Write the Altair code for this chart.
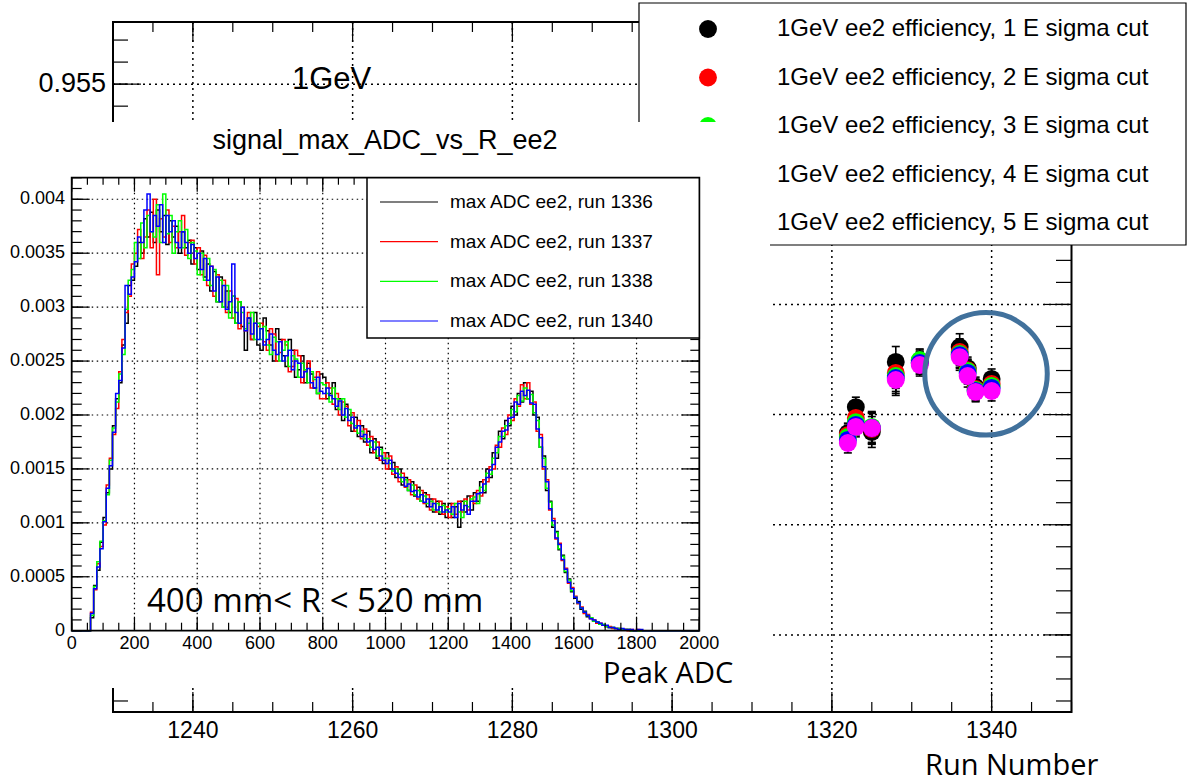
import altair as alt
import pandas as pd

# ---------------- background plot: efficiency vs run number ----------------
runs = [1322, 1323, 1325, 1328, 1331, 1336, 1337, 1338, 1340]
eff_1sigma = [0.93916, 0.94034, 0.93921, 0.94239, 0.94234, 0.94307, 0.94211, 0.94125, 0.94162]
eff_2sigma = [0.93907, 0.93985, 0.93935, 0.94189, 0.94243, 0.94284, 0.94202, 0.94116, 0.94139]
eff_3sigma = [0.93898, 0.93966, 0.93944, 0.94175, 0.94248, 0.94275, 0.94198, 0.94112, 0.94130]
eff_4sigma = [0.93885, 0.93953, 0.93939, 0.94166, 0.94234, 0.94270, 0.94189, 0.94107, 0.94121]
eff_5sigma = [0.93871, 0.93944, 0.93939, 0.94157, 0.94225, 0.94261, 0.94175, 0.94103, 0.94107]
eff_err = [0.00045, 0.00045, 0.0007, 0.0007, 0.0005, 0.0006, 0.0005, 0.00045, 0.00045]
series_labels = [
    "1GeV ee2 efficiency, 1 E sigma cut",
    "1GeV ee2 efficiency, 2 E sigma cut",
    "1GeV ee2 efficiency, 3 E sigma cut",
    "1GeV ee2 efficiency, 4 E sigma cut",
    "1GeV ee2 efficiency, 5 E sigma cut",
]
series_colors = ["#000000", "#ff0000", "#00ff00", "#0000ff", "#ff00ff"]

run_major = [1240, 1260, 1280, 1300, 1320, 1340]
run_labels = ["1240", "1260", "1280", "1300", "1320", "1340"]
run_minor = [1230, 1235, 1240, 1245, 1250, 1255, 1260, 1265, 1270, 1275, 1280, 1285,
             1290, 1295, 1300, 1305, 1310, 1315, 1320, 1325, 1330, 1335, 1340, 1345, 1350]
eff_major = [0.93, 0.935, 0.94, 0.945, 0.95, 0.955]
eff_visible_label = [0.955]          # the other y labels are hidden behind the inset
eff_visible_text = ["0.955"]
eff_minor = [0.927, 0.928, 0.929, 0.930, 0.931, 0.932, 0.933, 0.934, 0.935, 0.936, 0.937,
             0.938, 0.939, 0.940, 0.941, 0.942, 0.943, 0.944, 0.945, 0.946, 0.947, 0.948,
             0.949, 0.950, 0.951, 0.952, 0.953, 0.954, 0.955, 0.956, 0.957]

highlight_run = [1339.3]
highlight_eff = [0.94185]

# ---------------- inset: peak ADC histograms, 10-ADC bins (values in units of 1e-6) ----------------
HIST_UNIT = 1e-6
adc_bins = list(range(0, 2000, 10))
hist_1336 = [
    0, 0, 0, 0, 0, 0, 120, 420, 560, 820, 1050, 1280, 1500, 1900, 2150, 2300, 2650, 2850, 3200, 3250,
    3380, 3600, 3500, 3820, 3650, 3880, 3600, 3900, 3700, 3850, 3580, 3800, 3650, 3750, 3500, 3700, 3550, 3620, 3400, 3550,
    3350, 3520, 3280, 3400, 3150, 3330, 3050, 3280, 3000, 3150, 2950, 3100, 2850, 3050, 2820, 2600, 2900, 2700, 2950, 2650,
    2600, 2900, 2780, 2650, 2500, 2800, 2700, 2550, 2450, 2700, 2600, 2350, 2420, 2550, 2300, 2480, 2380, 2250, 2200, 2380,
    2350, 2150, 2200, 2300, 2050, 2150, 1950, 2100, 2000, 1850, 1980, 1800, 1900, 1750, 1850, 1650, 1780, 1600, 1700, 1550,
    1650, 1500, 1560, 1420, 1500, 1350, 1420, 1300, 1380, 1250, 1330, 1200, 1280, 1150, 1220, 1100, 1200, 1080, 1180, 1050,
    1180, 1050, 1150, 960, 1200, 1100, 1250, 1120, 1280, 1200, 1380, 1280, 1500, 1420, 1650, 1600, 1850, 1780, 1950, 1900,
    2080, 2000, 2200, 2120, 2300, 2150, 2220, 2000, 1980, 1700, 1620, 1300, 1200, 960, 920, 750, 700, 540, 480, 360,
    300, 270, 200, 180, 130, 120, 90, 80, 60, 50, 40, 30, 30, 20, 20, 10, 10, 10, 0, 0,
    0, 0, 0, 0, 0, 0, 0, 0, 0, 0, 0, 0, 0, 0, 0, 0, 0, 0, 0, 0]
hist_1337 = [
    0, 0, 0, 0, 0, 0, 170, 380, 620, 780, 980, 1350, 1600, 1820, 2060, 2400, 2700, 2950, 3100, 3400,
    3500, 3720, 3450, 3650, 3900, 3550, 4000, 3300, 3820, 3650, 3900, 3600, 3750, 3550, 3700, 3850, 3480, 3600, 3620, 3400,
    3550, 3300, 3480, 3200, 3380, 3100, 3300, 3050, 3250, 2950, 3150, 2900, 3080, 2800, 3000, 2780, 2950, 2700, 2850, 2820,
    2850, 2680, 2600, 2800, 2750, 2500, 2580, 2700, 2650, 2400, 2450, 2600, 2550, 2300, 2420, 2500, 2250, 2350, 2400, 2150,
    2150, 2300, 2250, 2100, 2200, 2000, 2120, 2080, 1900, 2020, 1850, 1950, 1780, 1870, 1720, 1800, 1650, 1750, 1580, 1650,
    1500, 1620, 1450, 1520, 1380, 1460, 1330, 1400, 1260, 1350, 1220, 1300, 1180, 1260, 1120, 1220, 1100, 1200, 1080, 1150,
    1050, 1180, 1080, 1200, 1100, 1220, 1120, 1250, 1180, 1300, 1250, 1400, 1380, 1520, 1500, 1720, 1700, 1880, 1820, 2000,
    1950, 2150, 2080, 2280, 2150, 2300, 2100, 2120, 1850, 1820, 1500, 1400, 1120, 1040, 850, 810, 650, 580, 440, 400,
    320, 250, 220, 160, 150, 110, 100, 70, 70, 50, 40, 40, 20, 20, 10, 10, 10, 0, 10, 0,
    10, 0, 0, 0, 0, 0, 0, 0, 0, 0, 0, 0, 0, 0, 0, 0, 0, 0, 0, 0]
hist_1338 = [
    0, 0, 0, 0, 0, 0, 140, 410, 640, 830, 1020, 1260, 1580, 1880, 2120, 2380, 2560, 2980, 3250, 3350,
    3600, 3450, 3780, 3550, 3850, 3700, 3650, 3950, 3600, 4050, 3680, 3850, 3500, 3700, 3800, 3550, 3720, 3450, 3600, 3520,
    3300, 3500, 3250, 3450, 3200, 3350, 3050, 3250, 3000, 3200, 2900, 3100, 2850, 3050, 2950, 2800, 2850, 2950, 2700, 2850,
    2700, 2820, 2650, 2560, 2720, 2680, 2500, 2600, 2680, 2450, 2550, 2520, 2350, 2480, 2420, 2300, 2400, 2330, 2200, 2300,
    2280, 2200, 2120, 2250, 2150, 2050, 2150, 1980, 2050, 1920, 1900, 1830, 1850, 1780, 1780, 1700, 1750, 1620, 1680, 1600,
    1600, 1550, 1480, 1500, 1450, 1380, 1400, 1300, 1350, 1260, 1300, 1200, 1250, 1180, 1200, 1120, 1180, 1100, 1160, 1100,
    1130, 1080, 1180, 1100, 1050, 1200, 1150, 1220, 1240, 1180, 1330, 1300, 1460, 1450, 1600, 1650, 1800, 1800, 1900, 1920,
    2050, 2030, 2180, 2130, 2250, 2150, 2190, 2020, 1950, 1700, 1600, 1320, 1190, 980, 910, 760, 690, 550, 470, 370,
    310, 260, 210, 170, 140, 120, 90, 80, 60, 60, 40, 30, 30, 20, 20, 10, 10, 10, 0, 0,
    0, 0, 0, 0, 0, 0, 0, 0, 0, 0, 0, 0, 0, 0, 0, 0, 0, 0, 0, 0]
hist_1340 = [
    0, 0, 0, 0, 0, 0, 160, 390, 590, 760, 1010, 1320, 1530, 1840, 2200, 2320, 2620, 3200, 3120, 3280,
    3420, 3650, 3600, 3900, 4050, 3700, 3850, 3750, 3950, 3600, 3850, 3700, 3800, 3600, 3550, 3700, 3600, 3500, 3580, 3450,
    3500, 3350, 3450, 3250, 3380, 3150, 3280, 3050, 3200, 2980, 3050, 3400, 2950, 2850, 3000, 2780, 2900, 2750, 2850, 2700,
    2800, 2650, 2700, 2750, 2600, 2560, 2680, 2500, 2550, 2600, 2420, 2500, 2480, 2350, 2400, 2430, 2300, 2250, 2350, 2220,
    2200, 2250, 2180, 2150, 2080, 2130, 2000, 2060, 1950, 1980, 1880, 1900, 1800, 1820, 1750, 1760, 1680, 1700, 1620, 1580,
    1550, 1580, 1500, 1460, 1420, 1420, 1340, 1360, 1290, 1300, 1240, 1260, 1190, 1220, 1150, 1180, 1120, 1150, 1100, 1120,
    1100, 1150, 1050, 1180, 1120, 1160, 1080, 1200, 1200, 1270, 1280, 1360, 1420, 1490, 1540, 1700, 1750, 1850, 1860, 1970,
    1980, 2120, 2100, 2220, 2180, 2230, 2110, 2100, 1870, 1790, 1520, 1380, 1130, 1020, 860, 800, 660, 570, 450, 390,
    310, 260, 210, 170, 140, 110, 100, 80, 70, 50, 50, 30, 30, 20, 10, 20, 10, 10, 10, 0,
    10, 10, 0, 0, 0, 0, 0, 0, 0, 0, 0, 0, 0, 0, 0, 0, 0, 0, 0, 0]
hist_names = ["max ADC ee2, run 1336", "max ADC ee2, run 1337",
              "max ADC ee2, run 1338", "max ADC ee2, run 1340"]
hist_colors = ["#000000", "#ff0000", "#00ff00", "#0000ff"]

adc_major = [0, 200, 400, 600, 800, 1000, 1200, 1400, 1600, 1800, 2000]
adc_labels = ["0", "200", "400", "600", "800", "1000", "1200", "1400", "1600", "1800", "2000"]
adc_minor = [0, 50, 100, 150, 200, 250, 300, 350, 400, 450, 500, 550, 600, 650, 700, 750, 800,
             850, 900, 950, 1000, 1050, 1100, 1150, 1200, 1250, 1300, 1350, 1400, 1450, 1500,
             1550, 1600, 1650, 1700, 1750, 1800, 1850, 1900, 1950, 2000]
den_major = [0, 0.0005, 0.001, 0.0015, 0.002, 0.0025, 0.003, 0.0035, 0.004]
den_labels = ["0", "0.0005", "0.001", "0.0015", "0.002", "0.0025", "0.003", "0.0035", "0.004"]
den_minor = [0.0000, 0.0001, 0.0002, 0.0003, 0.0004, 0.0005, 0.0006, 0.0007, 0.0008, 0.0009,
             0.0010, 0.0011, 0.0012, 0.0013, 0.0014, 0.0015, 0.0016, 0.0017, 0.0018, 0.0019,
             0.0020, 0.0021, 0.0022, 0.0023, 0.0024, 0.0025, 0.0026, 0.0027, 0.0028, 0.0029,
             0.0030, 0.0031, 0.0032, 0.0033, 0.0034, 0.0035, 0.0036, 0.0037, 0.0038, 0.0039,
             0.0040, 0.0041, 0.0042]

# ---------------- scales ----------------
X_RUN = alt.Scale(domain=[1230, 1350], range=[113, 1071.5], nice=False, zero=False)
Y_EFF = alt.Scale(domain=[0.9265, 0.95782], range=[712, 22], nice=False, zero=False)
X_ADC = alt.Scale(domain=[0, 2000], range=[71.7, 699.3], nice=False, zero=False)
Y_DEN = alt.Scale(domain=[0, 0.0042], range=[630.7, 177.7], nice=False, zero=False)

SANS = "Liberation Sans"
PPT = "Open Sans"
MARKER = 320


def one():
    return pd.DataFrame({"k": [0]})


def box(x0, x1, y0, y1, fill=None, stroke=None, sw=1.0):
    kw = {}
    if fill:
        kw["fill"] = fill
        kw["fillOpacity"] = 1
    else:
        kw["fillOpacity"] = 0
    if stroke:
        kw["stroke"] = stroke
        kw["strokeWidth"] = sw
    else:
        kw["strokeWidth"] = 0
    return alt.Chart(one()).mark_rect(**kw).encode(
        x=alt.value(x0), x2=alt.value(x1), y=alt.value(y0), y2=alt.value(y1))


def text(s, x, y, size, font=SANS, align="left", baseline="alphabetic"):
    return alt.Chart(one()).mark_text(
        text=s, fontSize=size, font=font, align=align, baseline=baseline, color="black"
    ).encode(x=alt.value(x), y=alt.value(y))


def vrules(vals, scale, y0, y1, sw=1.0, dash=None):
    kw = dict(color="black", strokeWidth=sw)
    if dash:
        kw["strokeDash"] = dash
    return alt.Chart(pd.DataFrame({"v": vals})).mark_rule(**kw).encode(
        x=alt.X("v:Q", scale=scale, axis=None), y=alt.value(y0), y2=alt.value(y1))


def hrules(vals, scale, x0, x1, sw=1.0, dash=None):
    kw = dict(color="black", strokeWidth=sw)
    if dash:
        kw["strokeDash"] = dash
    return alt.Chart(pd.DataFrame({"v": vals})).mark_rule(**kw).encode(
        y=alt.Y("v:Q", scale=scale, axis=None), x=alt.value(x0), x2=alt.value(x1))


# ---------------- main plot ----------------
rows = []
for lab, effs in zip(series_labels, [eff_1sigma, eff_2sigma, eff_3sigma, eff_4sigma, eff_5sigma]):
    for r, e, er in zip(runs, effs, eff_err):
        rows.append({"series": lab, "run": r, "eff": e, "lo": e - er, "hi": e + er})
df_pts = pd.DataFrame(rows)

color_main = alt.Color("series:N", scale=alt.Scale(domain=series_labels, range=series_colors), legend=None)

err_bars = alt.Chart(df_pts).mark_rule(color="black", strokeWidth=1.6).encode(
    x=alt.X("run:Q", scale=X_RUN, axis=None),
    y=alt.Y("lo:Q", scale=Y_EFF, axis=None), y2="hi:Q")
cap_lo = alt.Chart(df_pts).mark_tick(orient="horizontal", size=8, thickness=1.6, color="black", opacity=1).encode(
    x=alt.X("run:Q", scale=X_RUN, axis=None), y=alt.Y("lo:Q", scale=Y_EFF, axis=None))
cap_hi = alt.Chart(df_pts).mark_tick(orient="horizontal", size=8, thickness=1.6, color="black", opacity=1).encode(
    x=alt.X("run:Q", scale=X_RUN, axis=None), y=alt.Y("hi:Q", scale=Y_EFF, axis=None))
points = alt.Chart(df_pts).mark_point(filled=True, shape="circle", size=MARKER, opacity=1, strokeWidth=0).encode(
    x=alt.X("run:Q", scale=X_RUN, axis=None),
    y=alt.Y("eff:Q", scale=Y_EFF, axis=None),
    color=color_main)

highlight = alt.Chart(pd.DataFrame({"run": highlight_run, "eff": highlight_eff})).mark_point(
    shape="circle", size=15000, filled=False, stroke="#41719c", strokeWidth=5, opacity=1
).encode(x=alt.X("run:Q", scale=X_RUN, axis=None), y=alt.Y("eff:Q", scale=Y_EFF, axis=None))

run_lab = alt.Chart(pd.DataFrame({"v": run_major, "lab": run_labels})).mark_text(
    fontSize=23, font=SANS, align="center", baseline="alphabetic", color="black"
).encode(x=alt.X("v:Q", scale=X_RUN, axis=None), y=alt.value(738), text="lab:N")
eff_lab = alt.Chart(pd.DataFrame({"v": eff_visible_label, "lab": eff_visible_text})).mark_text(
    fontSize=27, font=SANS, align="right", baseline="middle", color="black"
).encode(y=alt.Y("v:Q", scale=Y_EFF, axis=None), x=alt.value(106), text="lab:N")

main = alt.layer(
    vrules(run_major, X_RUN, 22, 712, sw=1.5, dash=[2, 4]),
    hrules(eff_major, Y_EFF, 113, 1071.5, sw=1.5, dash=[2, 4]),
    vrules(run_minor, X_RUN, 712, 702, sw=1.2),
    vrules(run_major, X_RUN, 712, 692, sw=1.2),
    vrules(run_minor, X_RUN, 22, 32, sw=1.2),
    vrules(run_major, X_RUN, 22, 42, sw=1.2),
    hrules(eff_minor, Y_EFF, 113, 128, sw=1.2),
    hrules(eff_major, Y_EFF, 113, 141, sw=1.2),
    hrules(eff_minor, Y_EFF, 1071.5, 1056, sw=1.2),
    hrules(eff_major, Y_EFF, 1071.5, 1044, sw=1.2),
    box(113, 1071.5, 22, 712, stroke="black", sw=2),
    run_lab,
    eff_lab,
    err_bars, cap_lo, cap_hi,
    points,
    highlight,
    text("1GeV", 292, 89, 31),
)

# ---------------- main legend ----------------
df_leg = pd.DataFrame({"series": series_labels, "row": [0, 1, 2, 3, 4]})
Y_LEG = alt.Scale(domain=[0, 4], range=[29, 223], nice=False, zero=False)
main_legend = alt.layer(
    box(639, 1186, 3, 245, fill="white", stroke="black", sw=1.2),
    alt.Chart(df_leg).mark_point(filled=True, shape="circle", size=MARKER, opacity=1, strokeWidth=0).encode(
        x=alt.value(708), y=alt.Y("row:Q", scale=Y_LEG, axis=None), color=color_main),
    alt.Chart(df_leg).mark_text(fontSize=24, font=SANS, align="left", baseline="middle", color="black").encode(
        x=alt.value(777), y=alt.Y("row:Q", scale=Y_LEG, axis=None), text="series:N"),
)

# ---------------- inset histogram ----------------
hist_layers = []
for name, vals, col in zip(hist_names, [hist_1336, hist_1337, hist_1338, hist_1340], hist_colors):
    dfh = pd.DataFrame({"adc": adc_bins + [2000],
                        "val": [v * HIST_UNIT for v in vals] + [vals[-1] * HIST_UNIT]})
    hist_layers.append(
        alt.Chart(dfh).mark_line(interpolate="step-after", color=col, strokeWidth=1.5).encode(
            x=alt.X("adc:Q", scale=X_ADC, axis=None), y=alt.Y("val:Q", scale=Y_DEN, axis=None)))

adc_lab = alt.Chart(pd.DataFrame({"v": adc_major, "lab": adc_labels})).mark_text(
    fontSize=18, font=SANS, align="center", baseline="alphabetic", color="black"
).encode(x=alt.X("v:Q", scale=X_ADC, axis=None), y=alt.value(649), text="lab:N")
den_lab = alt.Chart(pd.DataFrame({"v": den_major, "lab": den_labels})).mark_text(
    fontSize=18, font=SANS, align="right", baseline="middle", color="black"
).encode(y=alt.Y("v:Q", scale=Y_DEN, axis=None), x=alt.value(65), text="lab:N")

inset = alt.layer(
    box(0, 770, 122, 688, fill="white"),
    text("signal_max_ADC_vs_R_ee2", 385, 149, 27, align="center"),
    vrules(adc_major[1:-1], X_ADC, 177.7, 630.7, sw=1.2, dash=[1.5, 3.5]),
    hrules(den_major[1:], Y_DEN, 71.7, 699.3, sw=1.2, dash=[1.5, 3.5]),
    *hist_layers,
    vrules(adc_minor, X_ADC, 630.7, 622.7, sw=1.2),
    vrules(adc_major, X_ADC, 630.7, 616.7, sw=1.2),
    vrules(adc_minor, X_ADC, 177.7, 184.7, sw=1.2),
    vrules(adc_major, X_ADC, 177.7, 191.7, sw=1.2),
    hrules(den_minor, Y_DEN, 71.7, 81.7, sw=1.2),
    hrules(den_major, Y_DEN, 71.7, 89.7, sw=1.2),
    hrules(den_minor, Y_DEN, 699.3, 690.3, sw=1.2),
    hrules(den_major, Y_DEN, 699.3, 681.3, sw=1.2),
    box(71.7, 699.3, 177.7, 630.7, stroke="black", sw=1.8),
    adc_lab,
    den_lab,
)

# ---------------- inset legend ----------------
df_hleg = pd.DataFrame({"name": hist_names, "row": [0, 1, 2, 3]})
Y_HLEG = alt.Scale(domain=[0, 3], range=[202, 321], nice=False, zero=False)
color_hist = alt.Color("name:N", scale=alt.Scale(domain=hist_names, range=hist_colors), legend=None)
inset_legend = alt.layer(
    box(367, 699.3, 177.7, 338, fill="white", stroke="black", sw=1.5),
    alt.Chart(df_hleg).mark_rule(strokeWidth=1.2).encode(
        x=alt.value(380), x2=alt.value(438), y=alt.Y("row:Q", scale=Y_HLEG, axis=None), color=color_hist),
    alt.Chart(df_hleg).mark_text(fontSize=19, font=SANS, align="left", baseline="middle", color="black").encode(
        x=alt.value(450), y=alt.Y("row:Q", scale=Y_HLEG, axis=None), text="name:N"),
)

# ---------------- slide annotations ----------------
overlay = alt.layer(
    text("400 mm< R < 520 mm", 147, 612, 33, font=PPT),
    text("Peak ADC", 603, 683, 29, font=PPT),
    text("Run Number", 925, 775, 29, font=PPT),
)

chart = alt.layer(main, main_legend, inset, inset_legend, overlay).resolve_scale(
    x="independent", y="independent", color="independent"
).properties(
    width=1188, height=783, padding=0, background="white",
    autosize=alt.AutoSizeParams(type="none"),
).configure_view(stroke=None)

chart.save("out.html", embed_options={"renderer": "svg", "actions": False})
